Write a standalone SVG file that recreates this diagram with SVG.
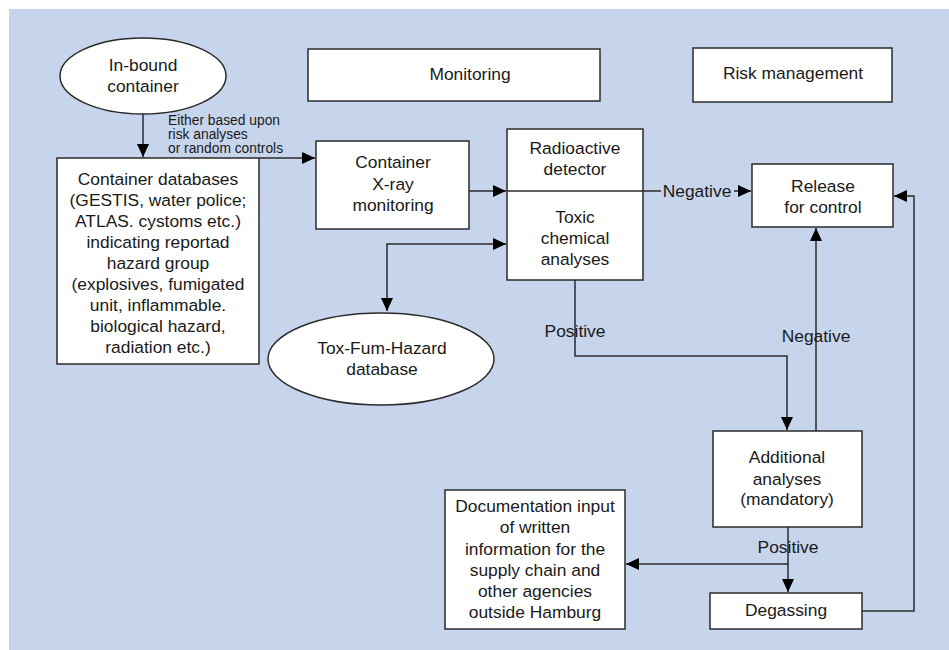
<svg xmlns="http://www.w3.org/2000/svg" width="949" height="650" viewBox="0 0 949 650">
<defs>
<style>
.box{fill:#fff;stroke:#2b2b2b;stroke-width:1.5}
.t{font-family:"Liberation Sans",Arial,sans-serif;font-size:17.4px;fill:#1a1a1a;text-anchor:middle}
.s{font-family:"Liberation Sans",Arial,sans-serif;font-size:13.8px;fill:#1a1a1a}
.c{fill:none;stroke:#2b2b2b;stroke-width:1.5}
</style>
<marker id="ah" markerUnits="userSpaceOnUse" markerWidth="14" markerHeight="14" viewBox="0 0 14 14" refX="13" refY="7" orient="auto-start-reverse">
<path d="M0,1 L13,7 L0,13 Z" fill="#000"/>
</marker>
</defs>
<rect x="9" y="9" width="940" height="641" fill="#C6D4EC"/>

<g id="connectors">
<path class="c" d="M143,114 V157" marker-end="url(#ah)"/>
<path class="c" d="M259,158 H315" marker-end="url(#ah)"/>
<path class="c" d="M469,191 H506" marker-end="url(#ah)"/>
<path class="c" d="M643,191 H661 M734,191 H751" marker-end="url(#ah)"/>
<text class="t" x="697" y="197">Negative</text>
<path class="c" d="M387,311 V244 H506" marker-start="url(#ah)" marker-end="url(#ah)"/>
<path class="c" d="M575,280 V356 H787 V430" marker-end="url(#ah)"/>
<text class="t" x="575" y="337">Positive</text>
<path class="c" d="M816,431 V228" marker-end="url(#ah)"/>
<text class="t" x="816" y="342">Negative</text>
<path class="c" d="M788,527 V592" marker-end="url(#ah)"/>
<text class="t" x="788" y="553">Positive</text>
<path class="c" d="M788,564 H626" marker-end="url(#ah)"/>
<path class="c" d="M862,611 H914 V196 H894" marker-end="url(#ah)"/>
<text class="s" x="168" y="125">Either based upon</text>
<text class="s" x="168" y="139">risk analyses</text>
<text class="s" x="168" y="153">or random controls</text>
</g>

<g id="inbound">
<ellipse cx="143" cy="76" rx="83" ry="38" fill="#fff" stroke="#2b2b2b" stroke-width="1.5"/>
<text class="t" x="143" y="71">In-bound</text>
<text class="t" x="143" y="92">container</text>
</g>

<g id="monitoring">
<rect class="box" x="308" y="49" width="292" height="52"/>
<text class="t" x="470" y="80">Monitoring</text>
</g>

<g id="risk">
<rect class="box" x="693" y="48" width="199" height="54"/>
<text class="t" x="793" y="79">Risk management</text>
</g>

<g id="databases">
<rect class="box" x="57" y="158" width="202" height="206"/>
<text class="t" x="158" y="185">Container databases</text>
<text class="t" x="158" y="206">(GESTIS, water police;</text>
<text class="t" x="158" y="227">ATLAS. cystoms etc.)</text>
<text class="t" x="158" y="248">indicating reportad</text>
<text class="t" x="158" y="269">hazard group</text>
<text class="t" x="158" y="290">(explosives, fumigated</text>
<text class="t" x="158" y="311">unit, inflammable.</text>
<text class="t" x="158" y="332">biological hazard,</text>
<text class="t" x="158" y="353">radiation etc.)</text>
</g>

<g id="xray">
<rect class="box" x="316" y="141" width="153" height="88"/>
<text class="t" x="393" y="168">Container</text>
<text class="t" x="393" y="190">X-ray</text>
<text class="t" x="393" y="211">monitoring</text>
</g>

<g id="detector">
<rect class="box" x="507" y="129" width="136" height="151"/>
<line class="c" x1="507" y1="191" x2="643" y2="191"/>
<text class="t" x="575" y="154">Radioactive</text>
<text class="t" x="575" y="175">detector</text>
<text class="t" x="575" y="223">Toxic</text>
<text class="t" x="575" y="244">chemical</text>
<text class="t" x="575" y="265">analyses</text>
</g>

<g id="release">
<rect class="box" x="752" y="164" width="141" height="63"/>
<text class="t" x="823" y="192">Release</text>
<text class="t" x="823" y="213">for control</text>
</g>

<g id="toxfum">
<ellipse cx="381" cy="359" rx="113" ry="46" fill="#fff" stroke="#2b2b2b" stroke-width="1.5"/>
<text class="t" x="382" y="354">Tox-Fum-Hazard</text>
<text class="t" x="382" y="375">database</text>
</g>

<g id="additional">
<rect class="box" x="713" y="431" width="149" height="96"/>
<text class="t" x="787" y="463">Additional</text>
<text class="t" x="787" y="485">analyses</text>
<text class="t" x="787" y="505">(mandatory)</text>
</g>

<g id="documentation">
<rect class="box" x="445" y="490" width="180" height="139"/>
<text class="t" x="535" y="512">Documentation input</text>
<text class="t" x="535" y="533">of written</text>
<text class="t" x="535" y="555">information for the</text>
<text class="t" x="535" y="576">supply chain and</text>
<text class="t" x="535" y="597">other agencies</text>
<text class="t" x="535" y="618">outside Hamburg</text>
</g>

<g id="degassing">
<rect class="box" x="710" y="593" width="152" height="36"/>
<text class="t" x="786" y="616">Degassing</text>
</g>
</svg>
